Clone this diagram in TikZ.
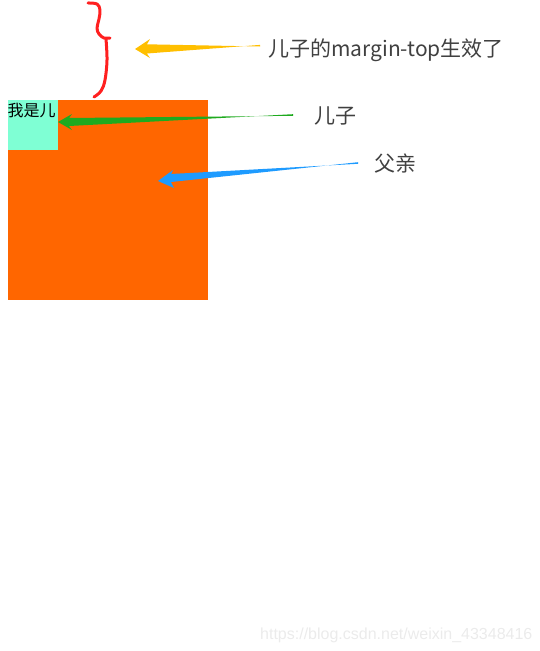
\documentclass[tikz,border=0pt]{standalone}
\usepackage{fontspec}
\newfontfamily\cjk{Noto Sans CJK SC}
\newfontfamily\wmfont{Liberation Sans}
\definecolor{parentc}{HTML}{FF6600}
\definecolor{childc}{HTML}{7FFFD4}
\definecolor{yarrow}{HTML}{FFBF00}
\definecolor{garrow}{HTML}{1FAA1F}
\definecolor{barrow}{HTML}{1E9BFF}
\definecolor{labc}{HTML}{404040}
\definecolor{bracec}{HTML}{FF2020}
\definecolor{wmc}{HTML}{EBEBEB}
\tikzset{
  lab/.style={inner sep=0pt, anchor=base west, text=labc, font=\cjk\fontsize{21}{21}\selectfont},
  wm/.style={inner sep=0pt, anchor=base west, text=wmc, font=\wmfont\fontsize{16}{16}\selectfont},
  bracestyle/.style={draw=bracec, line width=3pt, line cap=round, line join=round},
}
\begin{document}
\begin{tikzpicture}[x=1pt,y=-1pt]
\useasboundingbox (0,0) rectangle (540,651);
% parent and child boxes
\fill[parentc] (8,100) rectangle (208,300);
\fill[childc] (8,100) rectangle (58,150);
\node[inner sep=0pt, anchor=base west, font=\cjk\fontsize{16}{16}\selectfont] (child) at (7.5,116) {我是儿};
% labels
\node[lab] (lmargin) at (268,56) {儿子的margin-top生效了};
\node[lab] (lson) at (314,123.5) {儿子};
\node[lab] (lfather) at (374,171.5) {父亲};
% brace
\draw[bracestyle] plot[smooth, tension=0.6] coordinates {(88,3) (97,4) (100,10) (99,19) (97,28) (99,34) (104,38) (110,38)};
\draw[bracestyle] plot[smooth, tension=0.6] coordinates {(106,39) (107,60) (105,80) (101,91) (94,97)};
% arrow coordinates
\coordinate (ytail) at (260,45.7);
\coordinate (ytip) at (135,49);
\coordinate (gtail) at (293,115);
\coordinate (gtip) at (58,122);
\coordinate (btail) at (358,163);
\coordinate (btip) at (158,181);
% yellow arrow
\fill[yarrow] (ytip) -- (150,39) -- (147,44.3) -- ([yshift=-0.8pt]ytail) -- ([yshift=0.8pt]ytail) -- (147,53.5) -- (150,58) -- cycle;
% green arrow
\fill[garrow] (gtip) -- (72,114) -- (69,118) -- ([yshift=-0.8pt]gtail) -- ([yshift=0.8pt]gtail) -- (69,126) -- (72,130) -- cycle;
% blue arrow
\fill[barrow] (btip) -- (173,170) -- (171,174) -- ([yshift=-0.8pt]btail) -- ([yshift=0.8pt]btail) -- (171,182) -- (174,188) -- cycle;
% watermark
\node[wm] (wmark) at (260,639) {https://blog.csdn.net/weixin\_43348416};
\end{tikzpicture}
\end{document}
